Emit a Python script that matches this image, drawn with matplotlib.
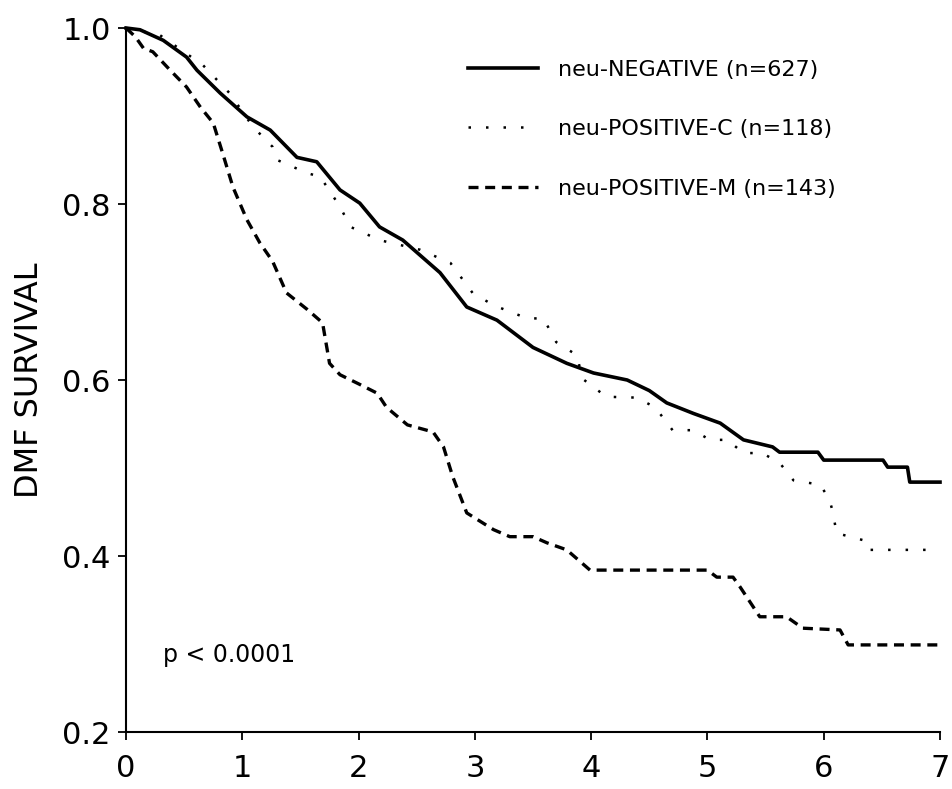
"""
DMF survival curves by neu status (Kaplan-Meier style, read off the scanned figure).
"""

import matplotlib
matplotlib.use('Agg')
from matplotlib import pyplot as plt

plt.rcParams['font.family'] = ['DejaVu Sans']

# neu-NEGATIVE (n=627)
neg_x = [0, 0.12, 0.32, 0.52, 0.61, 0.81, 1.04, 1.24, 1.47, 1.64, 1.84, 2.01,
         2.18, 2.38, 2.70, 2.93, 3.19, 3.50, 3.79, 4.02, 4.31, 4.50, 4.65, 4.88,
         5.11, 5.31, 5.56, 5.62, 5.95, 6.00, 6.51, 6.55, 6.72, 6.74, 7.0]
neg_y = [1.0, 0.998, 0.986, 0.967, 0.952, 0.926, 0.899, 0.884, 0.853, 0.848,
         0.816, 0.801, 0.774, 0.759, 0.722, 0.683, 0.668, 0.637, 0.619, 0.608,
         0.600, 0.588, 0.574, 0.562, 0.551, 0.532, 0.524, 0.518, 0.518, 0.509,
         0.509, 0.501, 0.501, 0.484, 0.484]

# neu-POSITIVE-C (n=118)
posc_x = [0, 0.29, 0.66, 0.89, 1.09, 1.26, 1.30, 1.56, 1.67, 1.84, 1.93, 2.18,
          2.53, 2.79, 2.98, 3.16, 3.45, 3.59, 3.70, 3.88, 3.92, 4.13, 4.39, 4.55,
          4.70, 4.88, 5.02, 5.17, 5.31, 5.47, 5.62, 5.74, 5.97, 6.05, 6.08, 6.11,
          6.34, 6.37, 7.0]
posc_y = [1.0, 0.992, 0.958, 0.926, 0.888, 0.865, 0.850, 0.835, 0.831, 0.797,
          0.774, 0.759, 0.748, 0.733, 0.699, 0.685, 0.670, 0.670, 0.643, 0.628,
          0.602, 0.581, 0.580, 0.569, 0.543, 0.543, 0.532, 0.532, 0.517, 0.517,
          0.506, 0.486, 0.481, 0.464, 0.449, 0.426, 0.418, 0.407, 0.407]

# neu-POSITIVE-M (n=143)
posm_x = [0, 0.08, 0.15, 0.23, 0.38, 0.52, 0.64, 0.75, 0.83, 0.92, 1.04, 1.15,
          1.26, 1.38, 1.56, 1.69, 1.75, 1.84, 2.01, 2.16, 2.24, 2.42, 2.64, 2.73,
          2.81, 2.93, 3.16, 3.30, 3.50, 3.62, 3.79, 3.99, 5.0, 5.08, 5.22, 5.28,
          5.37, 5.45, 5.68, 5.82, 6.14, 6.21, 7.0]
posm_y = [1.0, 0.99, 0.977, 0.973, 0.952, 0.933, 0.910, 0.892, 0.858, 0.819,
          0.782, 0.756, 0.735, 0.699, 0.680, 0.665, 0.619, 0.606, 0.595, 0.585,
          0.569, 0.549, 0.541, 0.524, 0.490, 0.449, 0.430, 0.422, 0.422, 0.415,
          0.407, 0.384, 0.384, 0.376, 0.376, 0.365, 0.347, 0.331, 0.331, 0.318,
          0.316, 0.299, 0.299]

labels = ['neu-NEGATIVE (n=627)', 'neu-POSITIVE-C (n=118)', 'neu-POSITIVE-M (n=143)']
x_ticks = [0, 1, 2, 3, 4, 5, 6, 7]
y_ticks = [0.2, 0.4, 0.6, 0.8, 1.0]

fig = plt.figure(figsize=(9.52, 7.89), dpi=100)
ax = fig.add_axes([0.1324, 0.0722, 0.855, 0.8923])

ax.plot(neg_x, neg_y, color='black', lw=2.6, ls='-', label=labels[0], clip_on=False)
ax.plot(posc_x, posc_y, color='black', lw=1.8, ls=(0, (1, 6)), label=labels[1], clip_on=False)
ax.plot(posm_x, posm_y, color='black', lw=2.4, ls=(0, (3, 2)), label=labels[2], clip_on=False)

ax.set_xlim(0, 7)
ax.set_ylim(0.2, 1.0)
ax.set_xticks(x_ticks)
ax.set_yticks(y_ticks)
ax.set_yticklabels([f'{v:.1f}' for v in y_ticks])

for s in ['top', 'right']:
    ax.spines[s].set_visible(False)
for s in ['left', 'bottom']:
    ax.spines[s].set_linewidth(1.5)

ax.tick_params(axis='both', direction='out', length=6, width=1.3, labelsize=22)
ax.tick_params(axis='x', pad=10)
ax.tick_params(axis='y', pad=5)

ax.set_ylabel('DMF SURVIVAL', fontsize=23)
ax.yaxis.set_label_coords(-0.1, 0.5)

ax.text(0.32, 0.2875, 'p < 0.0001', fontsize=17, va='center')

ax.legend(loc='upper left', bbox_to_anchor=(0.42, 0.955), frameon=False,
          fontsize=16, handlelength=3.15, handletextpad=0.9, labelspacing=1.78,
          borderpad=0, borderaxespad=0)

fig.savefig('out.png', dpi=100)
